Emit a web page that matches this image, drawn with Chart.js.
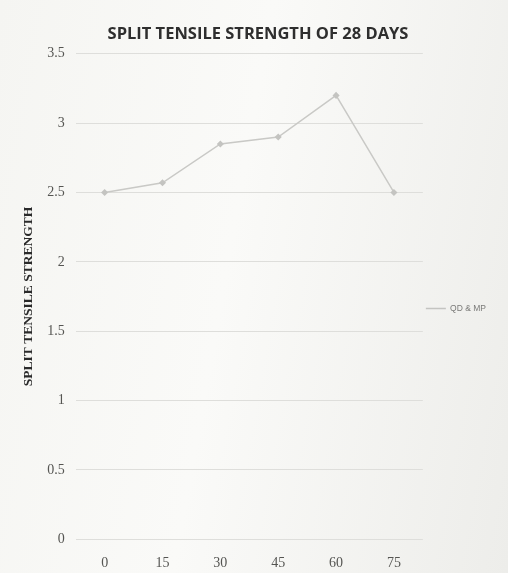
<!DOCTYPE html>
<html>
<head>
<meta charset="utf-8">
<script src="https://cdn.jsdelivr.net/npm/chart.js@4"></script>
<style>
  html, body { margin: 0; padding: 0; background: #f2f2ef; }
  #wrap { width: 508px; height: 573px; position: relative;
          background: linear-gradient(100deg, #f5f5f2 0%, #fafaf8 45%, #ededea 100%); }
</style>
</head>
<body>
<div id="wrap"><canvas id="myChart" width="508" height="573"></canvas></div>
<script>
// datos
var categorias = ['0', '15', '30', '45', '60', '75'];
var valoresQdMp = [2.5, 2.57, 2.85, 2.9, 3.2, 2.5];
var ticksY = [0, 0.5, 1, 1.5, 2, 2.5, 3, 3.5];

var ctx = document.getElementById('myChart').getContext('2d');

var myChart = new Chart(ctx, {
    type: 'line',
    data: {
        labels: categorias,
        datasets: [{
            label: 'QD & MP',
            data: valoresQdMp,
            borderColor: '#c9c9c6',
            backgroundColor: '#c9c9c6',
            borderWidth: 1.5,
            pointStyle: 'rectRot',
            pointRadius: 2.5,
            pointBackgroundColor: '#c4c4c1',
            pointBorderColor: '#c4c4c1',
            tension: 0
        }]
    },
    options: {
        responsive: false,
        animation: false,
        layout: { padding: { left: 20, right: 12, top: 14, bottom: -7 } },
        plugins: {
            title: {
                display: true,
                text: 'SPLIT TENSILE STRENGTH OF 28 DAYS',
                color: '#2e2e2e',
                font: { family: "'Open Sans', sans-serif", size: 16.5, weight: 'bold' },
                padding: { top: 10, bottom: 10 }
            },
            legend: {
                display: true,
                position: 'right',
                title: { display: true, text: ' ', padding: 6, font: { size: 9 } },
                labels: {
                    color: '#7a7a78',
                    font: { family: "'Liberation Sans', sans-serif", size: 8.5 },
                    usePointStyle: true,
                    pointStyle: 'line',
                    pointStyleWidth: 20,
                    padding: 3
                }
            },
            tooltip: { enabled: false }
        },
        scales: {
            x: {
                offset: true,
                grid: { display: false },
                border: { display: false },
                ticks: {
                    color: '#555552',
                    padding: 8,
                    font: { family: "'Liberation Serif', serif", size: 14 }
                }
            },
            y: {
                min: 0,
                max: 3.5,
                afterBuildTicks: function (axis) {
                    axis.ticks = ticksY.map(function (v) { return { value: v }; });
                },
                grid: { color: '#dededb', lineWidth: 1, drawTicks: false },
                border: { display: false },
                ticks: {
                    color: '#555552',
                    padding: 11,
                    font: { family: "'Liberation Serif', serif", size: 14 },
                    callback: function (v) { return String(v); }
                },
                title: {
                    display: true,
                    text: 'SPLIT TENSILE STRENGTH',
                    color: '#2a2a2a',
                    font: { family: "'Liberation Serif', serif", size: 13.5, weight: 'bold' },
                    padding: { top: 0, bottom: 0 }
                }
            }
        }
    }
});
</script>
</body>
</html>
